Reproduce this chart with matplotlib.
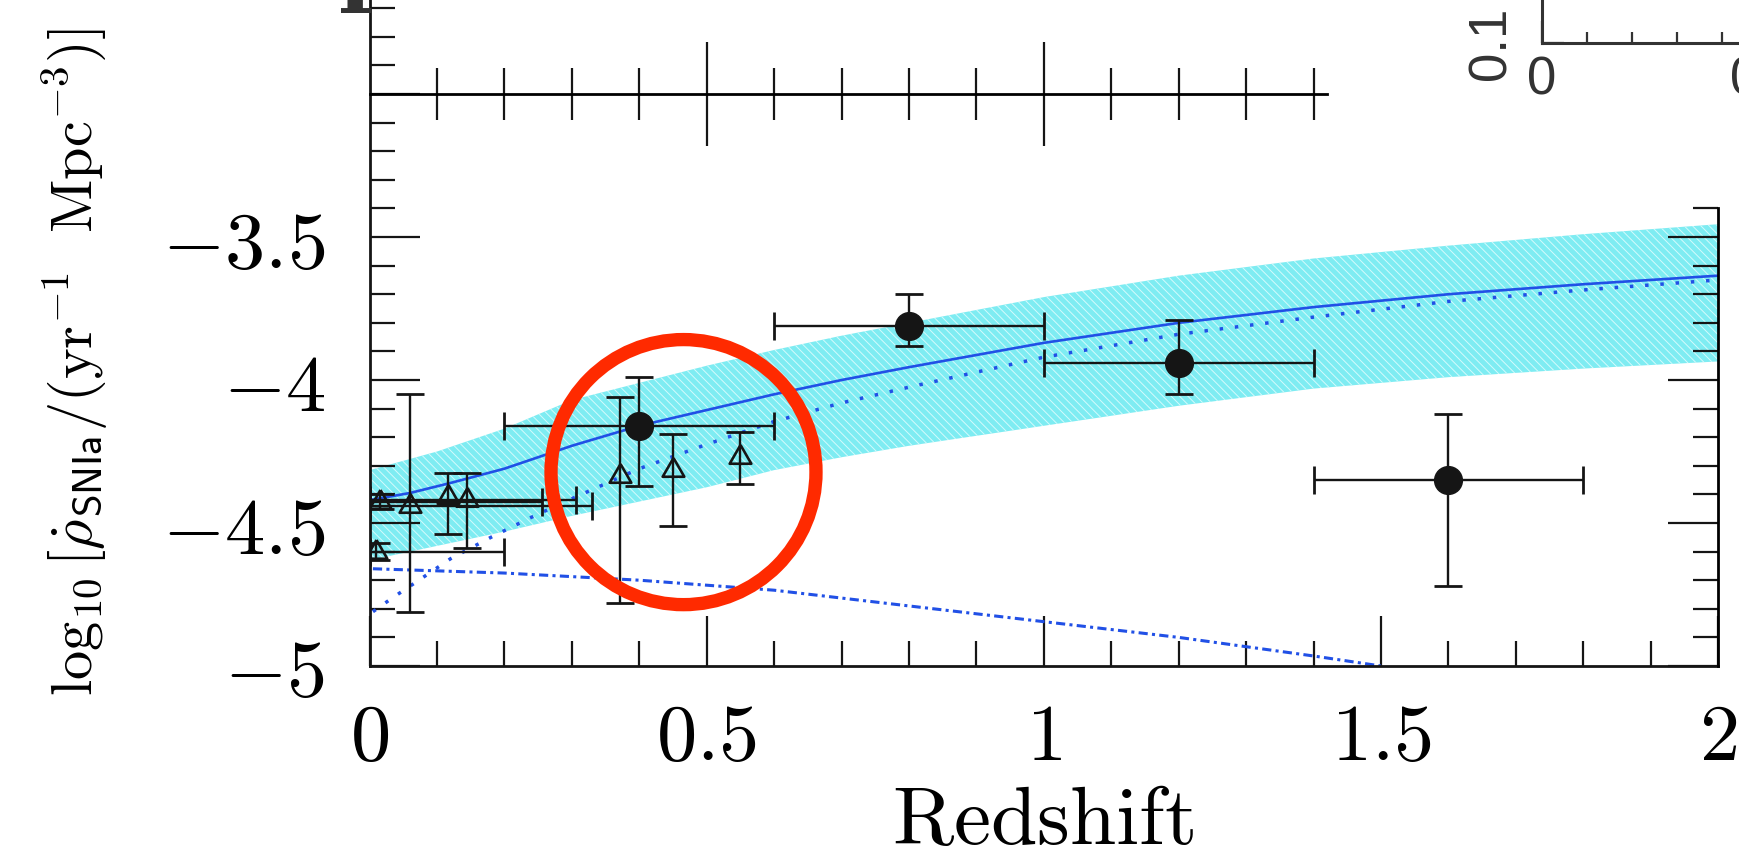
"""
plot.py

log10 SN Ia rate density vs redshift
model band + binned rates, redrawn in matplotlib
"""

import numpy as np
import matplotlib
matplotlib.use('Agg')
import matplotlib.pyplot as plt
from matplotlib.ticker import MultipleLocator, FixedLocator
from matplotlib.patches import Ellipse

plt.rcParams['mathtext.fontset'] = 'cm'

# ---- data ----
# binned rates, filled circles
circ_z = np.array([0.4, 0.8, 1.2, 1.6])
circ_rate = np.array([-4.16, -3.81, -3.94, -4.35])
circ_zlo = np.array([0.2, 0.6, 1.0, 1.4])
circ_zhi = np.array([0.6, 1.0, 1.4, 1.8])
circ_lo = np.array([-4.37, -3.88, -4.05, -4.72])
circ_hi = np.array([-3.99, -3.70, -3.79, -4.12])

# other measurements, open triangles
tri_z = np.array([0.01, 0.015, 0.06, 0.117, 0.145, 0.372, 0.45, 0.55])
tri_rate = np.array([-4.60, -4.425, -4.44, -4.41, -4.42, -4.335, -4.315, -4.27])
tri_zlo = np.array([0.0, 0.0, 0.0, 0.117, 0.0, 0.372, 0.45, 0.55])
tri_zhi = np.array([0.2, 0.256, 0.33, 0.117, 0.306, 0.372, 0.45, 0.55])
tri_lo = np.array([-4.63, -4.45, -4.81, -4.54, -4.588, -4.78, -4.51, -4.365])
tri_hi = np.array([-4.57, -4.40, -4.05, -4.326, -4.326, -4.06, -4.19, -4.18])

# model uncertainty band
band_z = [0.0, 0.1, 0.2, 0.3, 0.4, 0.5, 0.6, 0.7, 0.8, 1.0, 1.2, 1.4, 1.6, 1.8, 2.0]
band_hi = [-4.315, -4.25, -4.17, -4.07, -4.01, -3.95, -3.895, -3.845, -3.80,
           -3.71, -3.635, -3.575, -3.53, -3.49, -3.455]
band_lo = [-4.63, -4.58, -4.53, -4.475, -4.425, -4.375, -4.315, -4.27, -4.23,
           -4.16, -4.09, -4.03, -3.99, -3.96, -3.935]

# model curves
solid_z = [0.0, 0.06, 0.12, 0.2, 0.3, 0.4, 0.5, 0.6, 0.7, 0.8, 1.0, 1.2, 1.4, 1.6, 1.8, 2.0]
solid_rate = [-4.42, -4.395, -4.36, -4.31, -4.23, -4.16, -4.105, -4.05, -4.00,
              -3.955, -3.87, -3.80, -3.745, -3.70, -3.665, -3.635]
dot_z = [0.005, 0.035, 0.07, 0.12, 0.18, 0.24, 0.3, 0.4, 0.5, 0.6, 0.7, 0.8,
         1.0, 1.2, 1.4, 1.6, 1.8, 2.0]
dot_rate = [-4.81, -4.76, -4.705, -4.625, -4.55, -4.48, -4.415, -4.31, -4.225,
            -4.145, -4.08, -4.025, -3.92, -3.84, -3.78, -3.725, -3.685, -3.65]
dd_z = [0.005, 0.2, 0.4, 0.6, 0.8, 1.0, 1.2, 1.4, 1.5]
dd_rate = [-4.66, -4.675, -4.70, -4.735, -4.79, -4.845, -4.90, -4.965, -5.0]

# tick labels
xtick_vals = [0, 0.5, 1, 1.5, 2]
xtick_labels = ['$0$', '$0.5$', '$1$', '$1.5$', '$2$']
ytick_vals = [-5, -4.5, -4, -3.5, -3.0]
ytick_labels = ['$-5$', '$-4.5$', '$-4$', '$-3.5$', '']

# ---- style ----
BLACK = '#151515'
BLUE = '#2150e6'
CYAN = '#7eecf2'
RED = '#ff2a00'
Y_TOP = -2.671     # figure top in data units
Y_RIGHT_END = -3.4  # right spine stops here
CROSS_Y = -3.0      # crossing axis line of the upper panel
CROSS_END = 1.42

fig = plt.figure(figsize=(17.4, 8.61), dpi=100)
ax = fig.add_axes([0.2124, 0.2265, 0.7750, 0.7735])
ax.set_xlim(0, 2)
ax.set_ylim(-5, Y_TOP)
ax.patch.set_visible(False)

# band + curves
plt.rcParams['hatch.linewidth'] = 0.7
ax.fill_between(band_z, band_lo, band_hi, facecolor=CYAN, edgecolor='#d4fbfc',
                hatch='\\\\\\\\', linewidth=0, zorder=1)
ax.plot(solid_z, solid_rate, color=BLUE, lw=1.9, zorder=2)
ax.plot(dot_z, dot_rate, color=BLUE, lw=2.5, ls=(0, (1, 3.4)), zorder=2)
ax.plot(dd_z, dd_rate, color=BLUE, lw=2.2, ls=(0, (3, 1.4, 1, 1.4)), zorder=2)

# filled circles
ax.errorbar(circ_z, circ_rate,
            xerr=[circ_z - circ_zlo, circ_zhi - circ_z],
            yerr=[circ_rate - circ_lo, circ_hi - circ_rate],
            fmt='o', ms=20, color=BLACK, ecolor=BLACK, elinewidth=1.7,
            capsize=10, capthick=2, zorder=5)

# open triangles, vertical bars for all, horizontal bars where there is a bin
tri_marker = [(0, 1), (-0.866, -0.5), (0.866, -0.5), (0, 1)]
ax.errorbar(tri_z, tri_rate, yerr=[tri_rate - tri_lo, tri_hi - tri_rate],
            fmt='none', ecolor=BLACK, elinewidth=1.7, capsize=10, capthick=2,
            zorder=4)
has_bin = (tri_zhi - tri_zlo) > 0
ax.errorbar(tri_z[has_bin], tri_rate[has_bin],
            xerr=[tri_z[has_bin] - tri_zlo[has_bin], tri_zhi[has_bin] - tri_z[has_bin]],
            fmt='none', ecolor=BLACK, elinewidth=1.7, capsize=10, capthick=2,
            zorder=4)
ax.plot(tri_z, tri_rate, ls='none', marker=tri_marker, ms=18, mfc='none',
        mec=BLACK, mew=1.9, zorder=6)

# red circle drawn round the low-z points
ax.add_patch(Ellipse((0.4656, -4.322), width=0.393, height=0.927, fill=False,
                     edgecolor=RED, lw=9.6, zorder=10, clip_on=False))

# axes and ticks
for s in ['top', 'right']:
    ax.spines[s].set_visible(False)
for s in ['left', 'bottom']:
    ax.spines[s].set_linewidth(2)
    ax.spines[s].set_color(BLACK)
ax.set_xticks(xtick_vals)
ax.set_xticklabels(xtick_labels)
ax.set_yticks(ytick_vals)
ax.set_yticklabels(ytick_labels)
ax.xaxis.set_minor_locator(MultipleLocator(0.1))
ax.yaxis.set_minor_locator(MultipleLocator(0.1))
ax.tick_params(which='major', direction='in', length=36, width=1.6,
               color=BLACK, labelsize=58, top=False, right=False)
ax.tick_params(which='minor', direction='in', length=18, width=1.6,
               color=BLACK, top=False, right=False)
ax.tick_params(axis='x', pad=24)
ax.tick_params(axis='y', pad=32)

fig.text(1043 / 1740, 17 / 861, r'$\mathrm{Redshift}$', fontsize=60,
         ha='center', va='baseline')
fig.text(75 / 1740, 1 - 362 / 861,
         r'$\log_{10}[\dot{\rho}_{\mathsf{SNIa}}/(\mathrm{yr}^{-1}\ \ \mathrm{Mpc}^{-3})]$',
         fontsize=42, rotation=90, ha='center', va='center')

# right spine only up to -3.4
axr = ax.twinx()
axr.set_ylim(-5, Y_TOP)
for s in ['left', 'top', 'bottom']:
    axr.spines[s].set_visible(False)
axr.spines['right'].set_bounds(-5, Y_RIGHT_END)
axr.spines['right'].set_linewidth(2)
axr.yaxis.set_major_locator(FixedLocator([-5, -4.5, -4, -3.5]))
axr.yaxis.set_minor_locator(FixedLocator(list(np.round(np.arange(-4.9, -3.35, 0.1), 1))))
axr.tick_params(which='major', direction='in', length=36, width=1.6, color=BLACK,
                labelright=False)
axr.tick_params(which='minor', direction='in', length=18, width=1.6, color=BLACK)

# crossing axis of the panel above
axt = fig.add_axes([0.2124, 0.2265, 0.7750, 0.7735])
axt.set_xlim(0, 2)
axt.set_ylim(-5, Y_TOP)
axt.patch.set_visible(False)
for s in ['left', 'top', 'right']:
    axt.spines[s].set_visible(False)
axt.spines['bottom'].set_position(('data', CROSS_Y))
axt.spines['bottom'].set_bounds(0, CROSS_END)
axt.spines['bottom'].set_linewidth(2)
axt.xaxis.set_major_locator(FixedLocator([0.5, 1.0]))
axt.xaxis.set_minor_locator(FixedLocator(list(np.round(np.arange(0.1, 1.45, 0.1), 1))))
axt.tick_params(which='major', direction='inout', length=75, width=1.6,
                color=BLACK, labelbottom=False)
axt.tick_params(which='minor', direction='inout', length=37, width=1.6, color=BLACK)
axt.set_yticks([])

# corner of the inset at top right
axi = fig.add_axes([1542 / 1740, 1 - 43 / 861, 0.2, 0.1])
axi.set_xlim(0, 0.2 * 1740 / 450)
axi.set_ylim(0.1, 1.0)
axi.patch.set_visible(False)
for s in ['top', 'right']:
    axi.spines[s].set_visible(False)
for s in ['left', 'bottom']:
    axi.spines[s].set_linewidth(2.2)
    axi.spines[s].set_color('#333333')
axi.set_xticks([0, 0.5])
axi.set_xticklabels(['0', '0.5'], family='Liberation Sans', fontsize=38)
axi.xaxis.set_minor_locator(MultipleLocator(0.1))
axi.set_yticks([0.1])
axi.set_yticklabels(['0.1'], family='Liberation Sans', fontsize=38,
                    rotation=90, va='center')
axi.tick_params(which='major', direction='in', length=16, width=1.6,
                color='#333333', labelcolor='#333333')
axi.tick_params(axis='x', pad=9)
axi.tick_params(axis='y', pad=18)
axi.tick_params(which='minor', direction='in', length=8, width=1.6, color='#333333')

# cut-off letter of the title above
fig.text(338 / 1740, 1 - 13 / 861, 'r', family='DejaVu Serif', weight='bold',
         fontsize=64, color='#333333', ha='left', va='baseline')

fig.savefig('out.png', dpi=100)
